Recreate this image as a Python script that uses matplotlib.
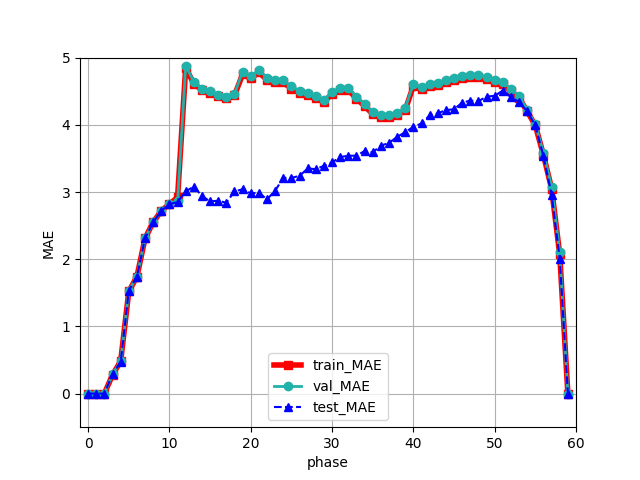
import matplotlib
matplotlib.use("Agg")
import matplotlib.pyplot as plt

phase = list(range(60))

train_mae = [0.0, 0.0, 0.0, 0.28, 0.48, 1.52, 1.74, 2.31, 2.55, 2.72, 2.82, 2.92,
             4.85, 4.61, 4.52, 4.47, 4.43, 4.40, 4.44, 4.75, 4.69, 4.78, 4.67, 4.63,
             4.63, 4.54, 4.48, 4.45, 4.40, 4.34, 4.46, 4.52, 4.52, 4.39, 4.28, 4.16,
             4.12, 4.12, 4.14, 4.22, 4.58, 4.53, 4.57, 4.59, 4.63, 4.67, 4.69, 4.71,
             4.71, 4.68, 4.64, 4.61, 4.50, 4.40, 4.20, 3.99, 3.55, 3.05, 2.07, 0.0]

val_mae = [0.0, 0.0, 0.0, 0.29, 0.48, 1.53, 1.74, 2.31, 2.55, 2.72, 2.82, 2.86,
           4.88, 4.64, 4.54, 4.50, 4.45, 4.42, 4.46, 4.79, 4.72, 4.82, 4.70, 4.66,
           4.66, 4.57, 4.51, 4.48, 4.43, 4.37, 4.49, 4.55, 4.55, 4.42, 4.31, 4.19,
           4.15, 4.15, 4.17, 4.25, 4.61, 4.56, 4.60, 4.62, 4.66, 4.70, 4.72, 4.74,
           4.74, 4.71, 4.67, 4.64, 4.53, 4.43, 4.22, 4.01, 3.58, 3.08, 2.10, 0.0]

test_mae = [0.0, 0.0, 0.0, 0.29, 0.47, 1.53, 1.74, 2.31, 2.55, 2.72, 2.82, 2.85,
            3.01, 3.08, 2.94, 2.86, 2.87, 2.84, 3.01, 3.04, 2.98, 2.99, 2.89, 3.02,
            3.21, 3.21, 3.24, 3.35, 3.34, 3.39, 3.44, 3.52, 3.54, 3.54, 3.61, 3.59,
            3.69, 3.73, 3.82, 3.89, 3.97, 4.02, 4.14, 4.17, 4.22, 4.23, 4.33, 4.36,
            4.35, 4.42, 4.43, 4.51, 4.41, 4.34, 4.20, 3.99, 3.53, 2.96, 2.01, 0.0]

fig, ax = plt.subplots(figsize=(6.4, 4.8), dpi=100)
ax.plot(phase, train_mae, color="red", linewidth=4, marker="s", markersize=6, label="train_MAE")
ax.plot(phase, val_mae, color="lightseagreen", linewidth=2, marker="o", markersize=6, label="val_MAE")
ax.plot(phase, test_mae, color="blue", linestyle="--", linewidth=1.5, marker="^", markersize=6, label="test_MAE")
ax.set_xlim(-1, 60)
ax.set_ylim(-0.5, 5)
ax.set_xlabel("phase")
ax.set_ylabel("MAE")
ax.grid(True)
ax.legend(loc="lower center")
fig.savefig("out.png", dpi=100)
